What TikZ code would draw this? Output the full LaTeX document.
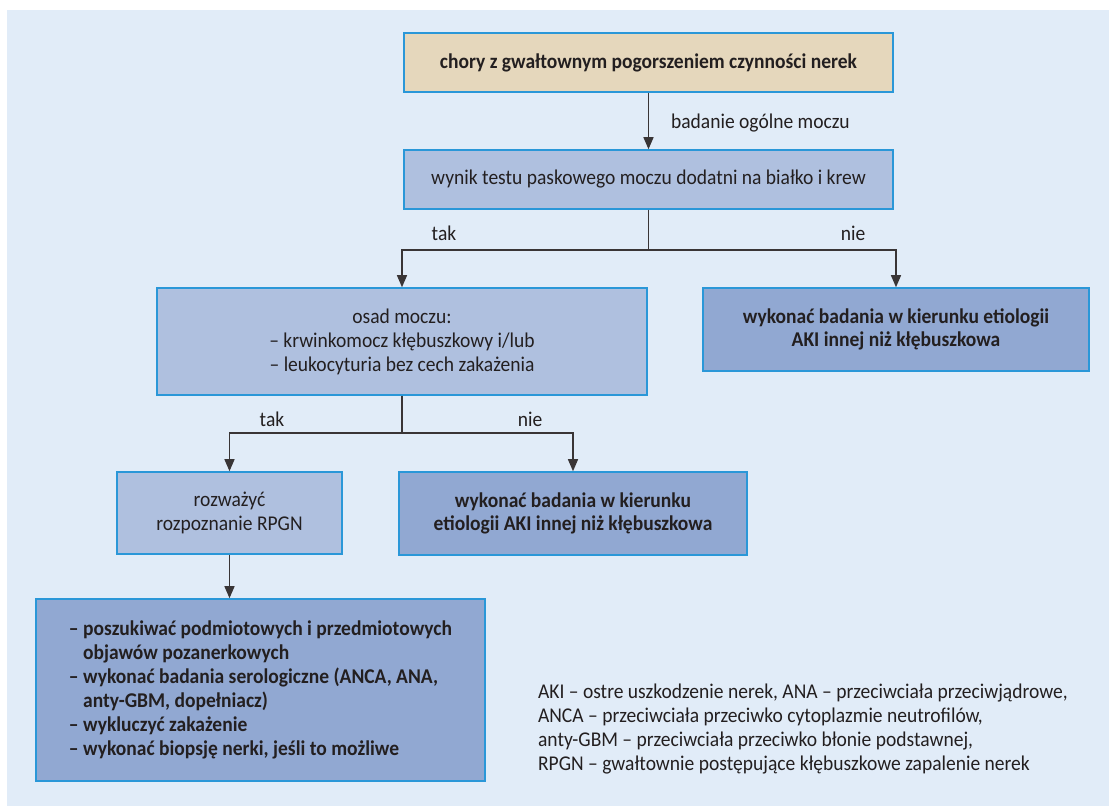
\documentclass[tikz,border=0pt]{standalone}
\usepackage{fontspec}
\setmainfont{Carlito}[FakeStretch=0.93]
\usetikzlibrary{arrows.meta, positioning, calc}
\definecolor{bgblue}{HTML}{E1ECF8}
\definecolor{boxbeige}{HTML}{E5D7BC}
\definecolor{boxlight}{HTML}{AFC0DF}
\definecolor{boxdark}{HTML}{91A8D2}
\definecolor{edgeblue}{HTML}{2A97D8}
\definecolor{inkgray}{HTML}{231F20}

\begin{document}
\begin{tikzpicture}[x=0.5pt, y=-0.5pt,
  box/.style={draw=edgeblue, line width=0.75pt, inner sep=0pt, align=center,
    text=inkgray, font=\fontsize{10.5}{12}\selectfont},
  lightbox/.style={box, fill=boxlight},
  darkbox/.style={box, fill=boxdark, font=\fontsize{10.5}{11.5}\selectfont\bfseries},
  arr/.style={-{Triangle[length=6pt, width=5pt]}, line width=0.6pt, draw=inkgray!90},
  lbl/.style={text=inkgray, font=\fontsize{10.5}{12}\selectfont}]

  % Background
  \useasboundingbox (0,0) rectangle (1109,806);
  \fill[bgblue] (7,10) rectangle (1109,806);

  % Boxes
  \node[box, fill=boxbeige, font=\fontsize{10.5}{12}\selectfont\bfseries,
    minimum width=244.5pt, minimum height=29.5pt] (chory) at (648.5,62.5)
    {chory z gwałtownym pogorszeniem czynności nerek};
  \node[lightbox, minimum width=244.5pt, minimum height=29.5pt] (wynik) at (648.5,179.5)
    {wynik testu paskowego moczu dodatni na białko i krew};
  \node[lightbox, minimum width=245pt, minimum height=53.5pt] (osad) at (402,341.5)
    {osad moczu:\\ -- krwinkomocz kłębuszkowy i/lub\\ -- leukocyturia bez cech zakażenia};
  \node[darkbox, minimum width=193pt, minimum height=41.5pt] (innaA) at (896,329.5)
    {wykonać badania w kierunku etiologii\\ AKI innej niż kłębuszkowa};
  \node[lightbox, minimum width=112.5pt, minimum height=41pt] (rozwaz) at (229.5,513)
    {rozważyć\\ rozpoznanie RPGN};
  \node[darkbox, minimum width=174pt, minimum height=41.5pt] (innaB) at (573,513.5)
    {wykonać badania w kierunku\\ etiologii AKI innej niż kłębuszkowa};
  \node[darkbox, align=left, minimum width=224.5pt, minimum height=91pt,
    font=\fontsize{10.5}{12}\selectfont\bfseries] (dalej) at (260.5,690)
    {-- poszukiwać podmiotowych i przedmiotowych\\
     \hphantom{-- }objawów pozanerkowych\\
     -- wykonać badania serologiczne (ANCA, ANA,\\
     \hphantom{-- }anty-GBM, dopełniacz)\\
     -- wykluczyć zakażenie\\
     -- wykonać biopsję nerki, jeśli to możliwe};

  % Branch points
  \coordinate (split1) at (648.5,250);
  \coordinate (split2) at (402,433);

  % Arrows
  \draw[arr] (chory) -- (wynik);
  \node[lbl, anchor=west] (badanie) at (664,123) {badanie ogólne moczu};
  \draw[line width=0.6pt, draw=inkgray!90] (wynik) -- (split1);
  \draw[arr] (split1) -| (osad);
  \draw[arr] (split1) -| (innaA);
  \node[lbl] (tak1) at (444,233) {tak};
  \node[lbl] (nie1) at (853,233) {nie};
  \draw[line width=0.6pt, draw=inkgray!90] (osad) -- (split2);
  \draw[arr] (split2) -| (rozwaz);
  \draw[arr] (split2) -| (innaB);
  \node[lbl] (tak2) at (272,419) {tak};
  \node[lbl] (nie2) at (530,419) {nie};
  \draw[arr] (rozwaz) -- (rozwaz.south |- dalej.north);

  % Legend
  \node[lbl, anchor=west, align=left] (skroty) at (531,729)
    {AKI -- ostre uszkodzenie nerek, ANA -- przeciwciała przeciwjądrowe,\\
     ANCA -- przeciwciała przeciwko cytoplazmie neutrofilów,\\
     anty-GBM -- przeciwciała przeciwko błonie podstawnej,\\
     RPGN -- gwałtownie postępujące kłębuszkowe zapalenie nerek};
\end{tikzpicture}
\end{document}
